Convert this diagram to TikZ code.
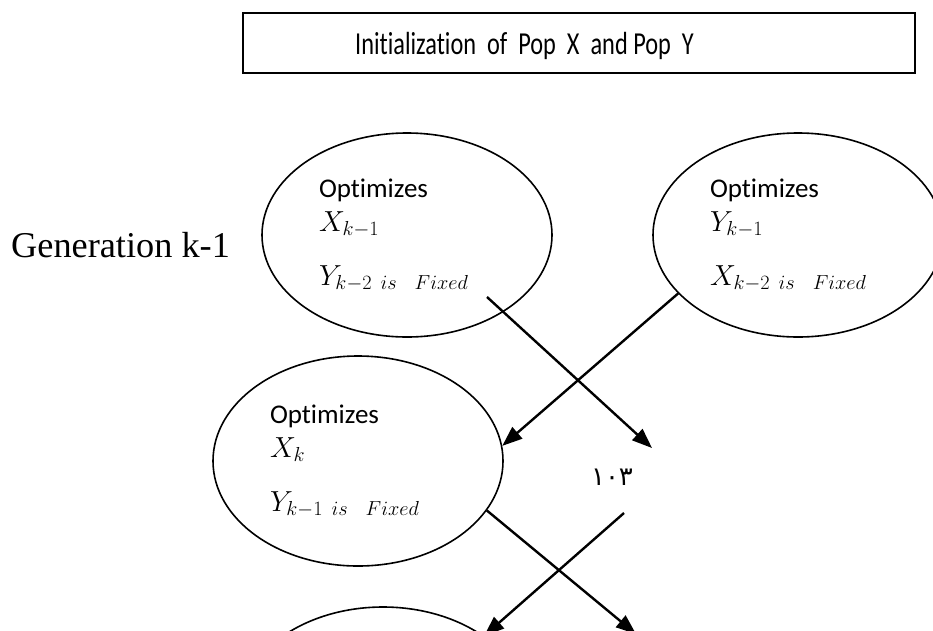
\RequirePackage{fix-cm}
\documentclass[tikz,border=0pt]{standalone}
\usepackage{fontspec}
\setmainfont{Liberation Serif}
\newfontfamily\calibri[Ligatures=NoCommon]{Carlito}
\newfontfamily\boxfont[Ligatures=NoCommon,FakeStretch=0.76]{Carlito}
\newfontfamily\arabicfont[Script=Arabic]{DejaVu Sans}
\usetikzlibrary{shapes.geometric,arrows.meta}

% math lines inside the ellipses are set a little larger
\newcommand{\mline}[1]{{\fontsize{29}{34}\selectfont$#1$}}

\begin{document}
\begin{tikzpicture}[x=1pt,y=-1pt,
  gen/.style={draw,ellipse,line width=1.6pt,minimum width=290pt,minimum height=204pt,
    inner sep=0pt,text width=176pt,align=left,font=\calibri\fontsize{27}{34}\selectfont},
  link/.style={line width=2.4pt,-{Triangle[length=20pt,width=15pt]}}]
\useasboundingbox (0,0) rectangle (933,630);
\clip (0,0) rectangle (933,630);

% first step
\node[draw,line width=1.6pt,minimum width=672pt,minimum height=60pt,inner sep=0pt] (init) at (579,43) {};
\node[anchor=base west,inner sep=0pt,font=\boxfont\fontsize{32}{36}\selectfont] (title) at (355,54)
  {Initialization\ \ of\ \ Pop\ \ X\ \ and Pop\ \ Y};

\node[anchor=base west,inner sep=0pt,font=\fontsize{36.3}{42}\selectfont] (gen) at (11,257) {Generation k-1};

% generation k-1
\node[gen] (ox1) at (407,235) {Optimizes\\ \mline{X_{k-1}}\\[20pt] \mline{Y_{k-2\ is\ \ Fixed}}};
\node[gen] (oy1) at (798,235) {Optimizes\\ \mline{Y_{k-1}}\\[20pt] \mline{X_{k-2\ is\ \ Fixed}}};

% generation k
\node[gen,minimum height=210pt] (ox2) at (358,461) {Optimizes\\ \mline{X_{k}}\\[20pt] \mline{Y_{k-1\ is\ \ Fixed}}};
\node[gen,minimum height=210pt] (ox3) at (383,712) {};

\node[inner sep=0pt,font=\arabicfont\fontsize{26}{30}\selectfont] (page) at (612,477) {١٠٣};

\coordinate (a1) at (487,297);
\coordinate (a2) at (652,448);
\coordinate (d1) at (624,513);
\coordinate (c2) at (636,634);

\draw[link] (a1) -- (a2);
\draw[link] (oy1.206) -- (ox2.6);
\draw[link] (ox2.-21) -- (c2);
\draw[link] (d1) -- (ox3.37);
%\draw[link] (oy1.south) -- (oy2.north);
\end{tikzpicture}
\end{document}
